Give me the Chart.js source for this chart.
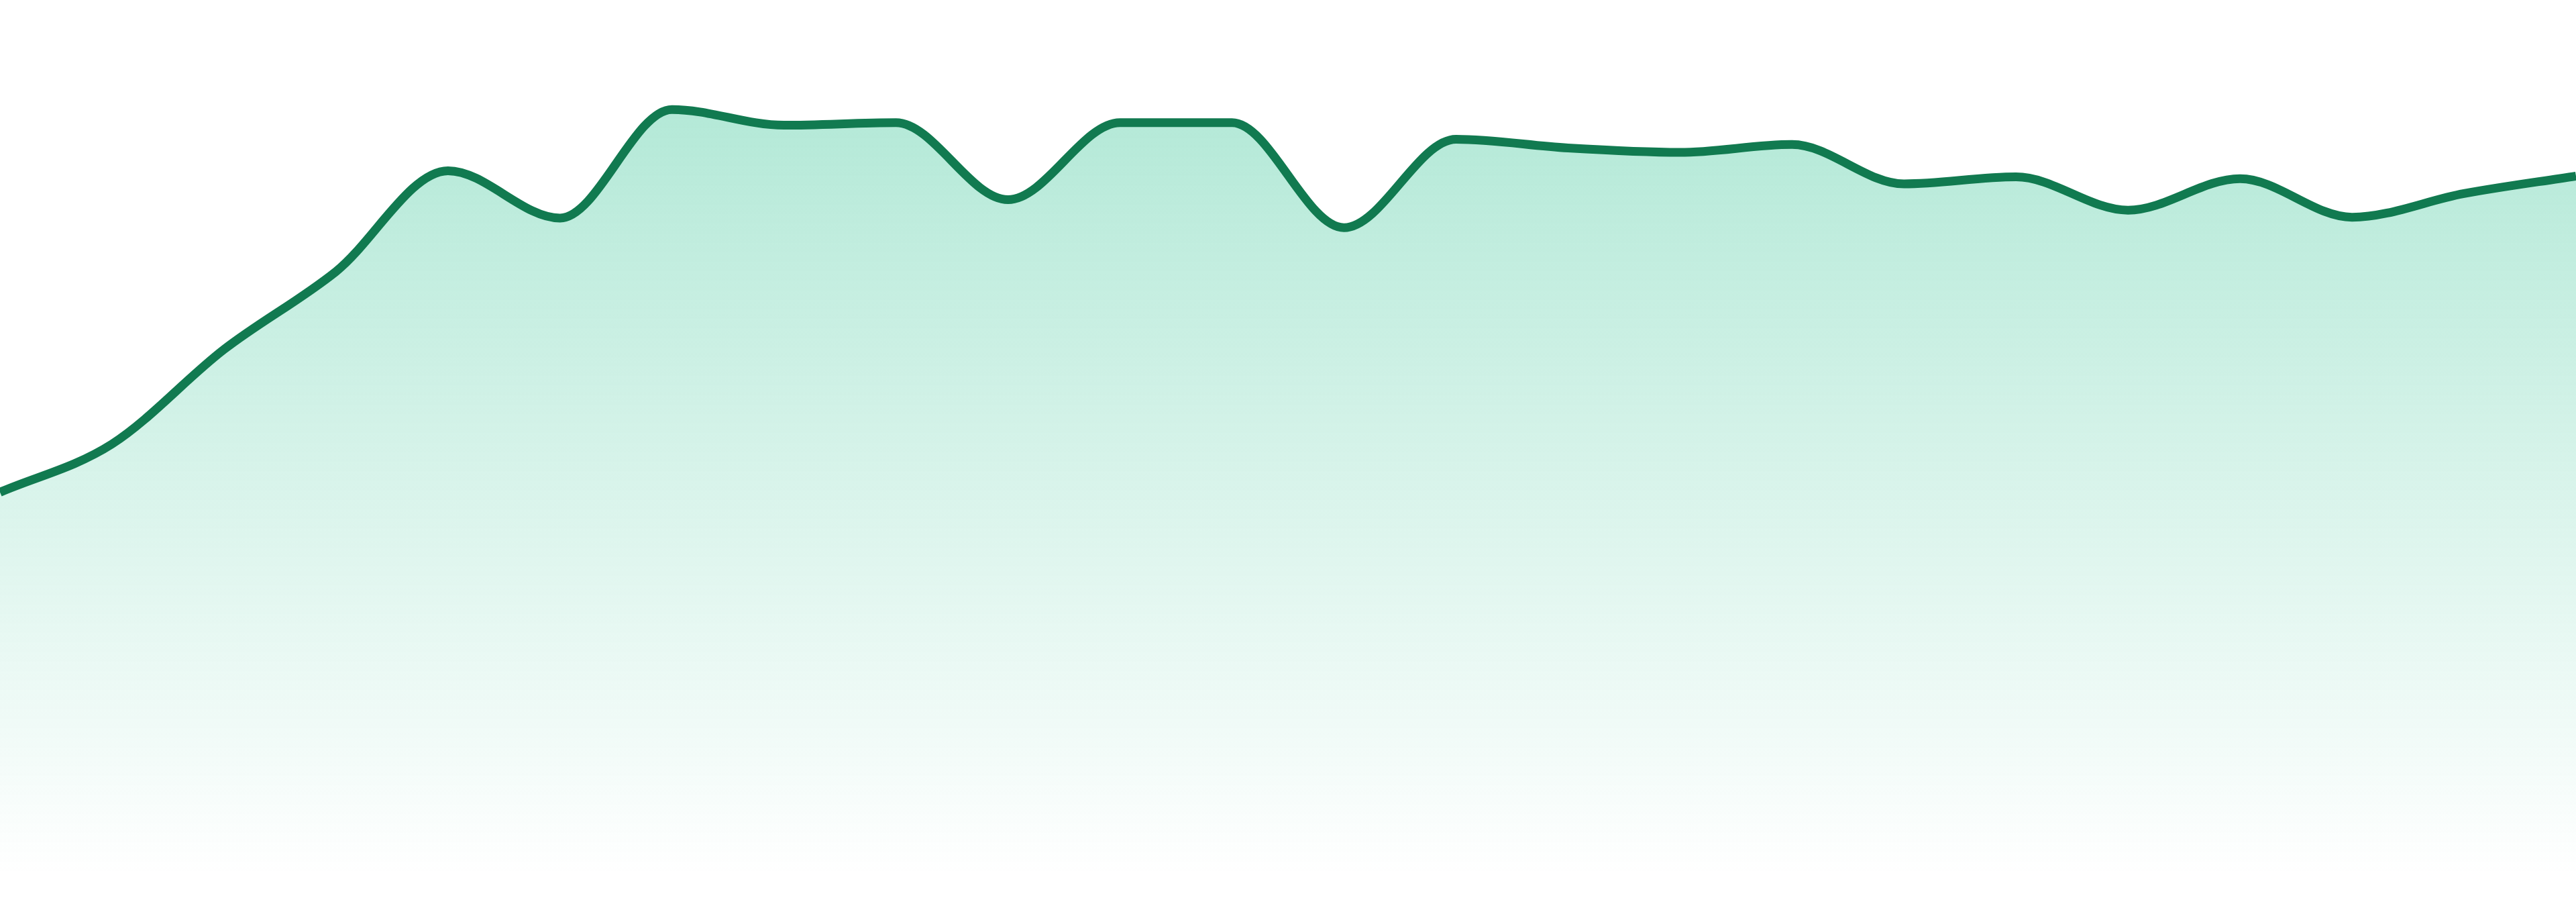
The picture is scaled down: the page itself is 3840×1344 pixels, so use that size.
<!DOCTYPE html>
<html lang="en">
<head>
  <meta charset="UTF-8">
  <title>Area trend</title>
  <script src="https://cdn.jsdelivr.net/npm/chart.js"></script>
  <style>
    html, body { margin: 0; padding: 0; background: #ffffff; }
    .chart-wrap { width: 3840px; height: 1344px; position: relative; }
  </style>
</head>
<body>
  <div class="chart-wrap">
    <canvas id="trendChart"></canvas>
  </div>

  <script>
    // hourly labels (axes are hidden in the picture)
    const labels = [
      "00:00", "01:00", "02:00", "03:00", "04:00", "05:00",
      "06:00", "07:00", "08:00", "09:00", "10:00", "11:00",
      "12:00", "13:00", "14:00", "15:00", "16:00", "17:00",
      "18:00", "19:00", "20:00", "21:00", "22:00", "23:00"
    ];

    // values
    const values = [
      43.8, 49.3, 60.1, 69.0, 80.5, 75.1,
      87.5, 85.7, 86.0, 77.2, 86.0, 86.0,
      74.0, 84.1, 83.1, 82.6, 83.5, 79.0,
      79.8, 76.0, 79.6, 75.2, 77.9, 79.9
    ];

    const yMin = 0;
    const yMax = 100;

    const lineColor = "rgb(17, 122, 80)";

    function areaGradient(context) {
      const chart = context.chart;
      const area = chart.chartArea;
      if (!area) return "rgba(16, 185, 129, 0.3)";
      const g = chart.ctx.createLinearGradient(0, area.top, 0, area.bottom);
      g.addColorStop(0, "rgba(16, 185, 129, 0.36)");
      g.addColorStop(1, "rgba(16, 185, 129, 0)");
      return g;
    }

    const ctx = document.getElementById("trendChart").getContext("2d");
    window.trendChart = new Chart(ctx, {
      type: "line",
      data: {
        labels: labels,
        datasets: [
          {
            data: values,
            borderColor: lineColor,
            borderWidth: 13,
            backgroundColor: areaGradient,
            fill: "start",
            pointRadius: 0,
            pointHoverRadius: 0,
            cubicInterpolationMode: "monotone",
          },
        ],
      },
      options: {
        responsive: true,
        maintainAspectRatio: false,
        animation: false,
        devicePixelRatio: 1,
        layout: {
          padding: { top: 0, right: 0, bottom: 39, left: 0 },
        },
        plugins: {
          legend: { display: false },
          tooltip: { enabled: false },
        },
        scales: {
          x: {
            display: false,
            offset: false,
          },
          y: {
            display: false,
            min: yMin,
            max: yMax,
          },
        },
      },
    });
  </script>
</body>
</html>
